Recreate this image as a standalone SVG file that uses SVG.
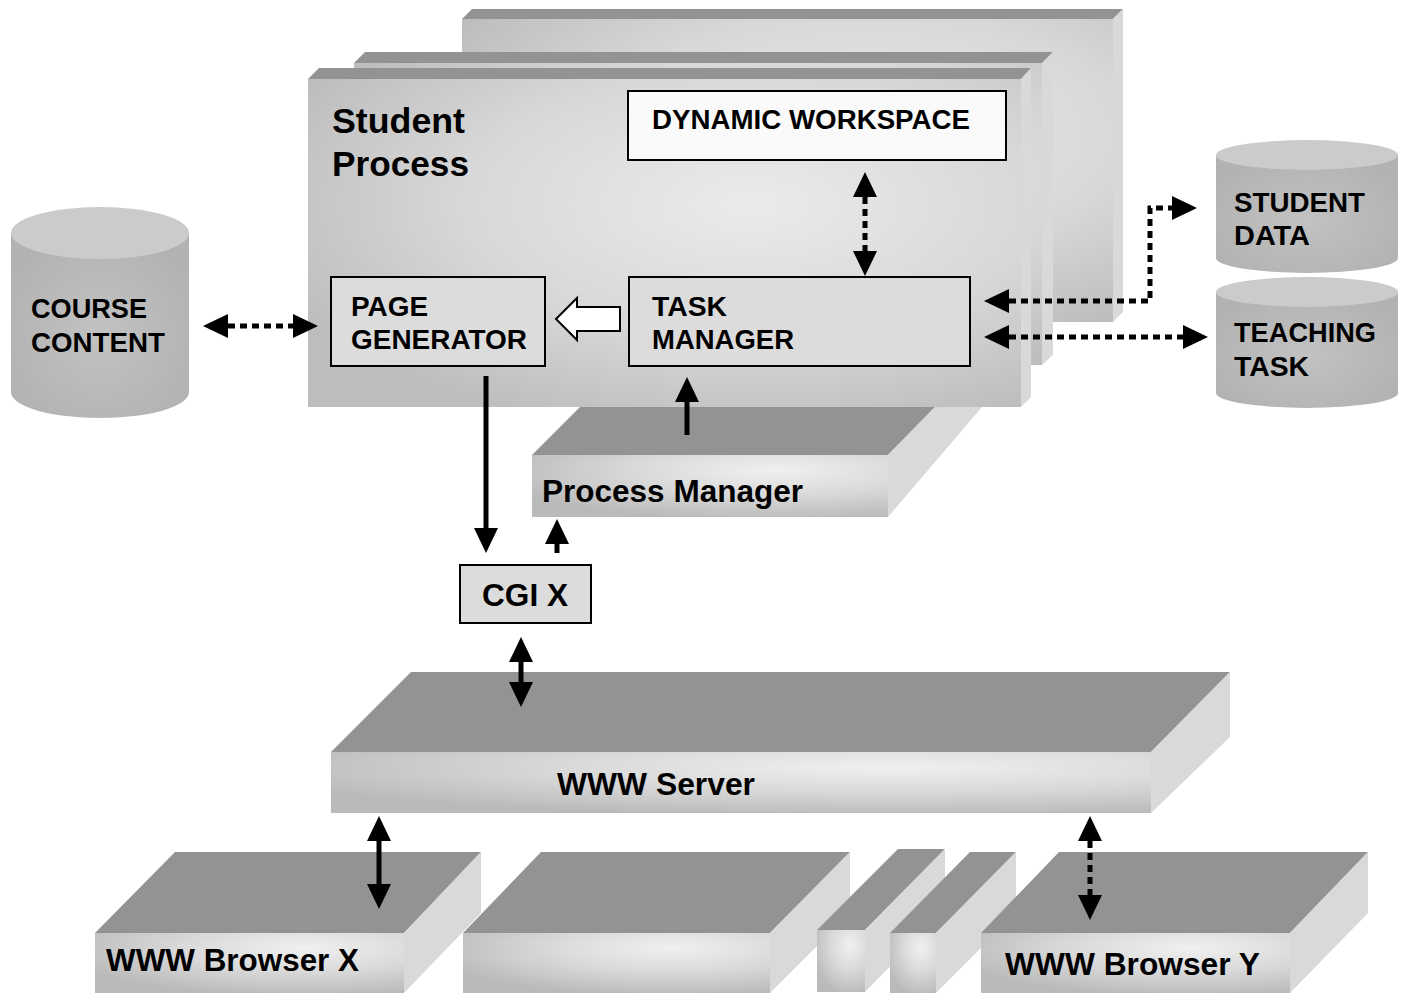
<svg xmlns="http://www.w3.org/2000/svg" width="1404" height="993" viewBox="0 0 1404 993">
  <defs>
    <style>
      .lbl { font-family: "Liberation Sans", Arial, sans-serif; font-weight: bold; fill: #000; }
      .top { fill: #939393; }
      .side { fill: #d9d9d9; }
      .face { fill: url(#faceGrad); }
      .slab { fill: url(#slabGrad); }
      .box { stroke: #000; stroke-width: 2; }
      .solid { fill: none; stroke: #000; stroke-width: 5; }
      .dotted { fill: none; stroke: #000; stroke-width: 5; stroke-dasharray: 7 5; }
      .cylBody { fill: url(#cylGrad); }
      .cylTop { fill: #cbcbcb; }
    </style>
    <radialGradient id="faceGrad" cx="0.62" cy="0.38" r="0.72">
      <stop offset="0" stop-color="#ebebeb"/>
      <stop offset="0.55" stop-color="#d8d8d8"/>
      <stop offset="1" stop-color="#bdbdbd"/>
    </radialGradient>
    <radialGradient id="slabGrad" cx="0.68" cy="0.25" r="0.8">
      <stop offset="0" stop-color="#f0f0f0"/>
      <stop offset="0.5" stop-color="#d9d9d9"/>
      <stop offset="1" stop-color="#bababa"/>
    </radialGradient>
    <radialGradient id="cylGrad" cx="0.5" cy="0.55" r="0.6">
      <stop offset="0" stop-color="#c2c2c2"/>
      <stop offset="1" stop-color="#b2b2b2"/>
    </radialGradient>
    <marker id="head" viewBox="0 -13 26 26" markerWidth="26" markerHeight="26" refX="0" refY="0" orient="auto-start-reverse" markerUnits="userSpaceOnUse" overflow="visible">
      <path d="M0,-12 L25,0 L0,12 z" fill="#000"/>
    </marker>
  </defs>

  <!-- Process Manager slab (its back part is hidden behind the process stack) -->
  <g id="process-manager">
    <polygon class="top" points="532,455 580,407 935,407 888,455"/>
    <polygon class="side" points="888,455 935,407 982,407 888,517"/>
    <rect class="slab" x="532" y="455" width="356" height="62"/>
    <text class="lbl" x="542" y="502" font-size="31" textLength="261" lengthAdjust="spacingAndGlyphs">Process Manager</text>
  </g>

  <!-- Stack of student processes -->
  <g id="student-process-3">
    <polygon class="top" points="462,19 472,9 1123,9 1113,19"/>
    <polygon class="side" points="1113,19 1123,9 1123,312 1113,322"/>
    <rect class="face" x="462" y="19" width="651" height="303"/>
  </g>
  <g id="student-process-2">
    <polygon class="top" points="354,63 365,52 1053,52 1042,63"/>
    <polygon class="side" points="1042,63 1053,52 1053,355 1042,365"/>
    <rect class="face" x="354" y="63" width="688" height="302"/>
  </g>
  <g id="student-process">
    <polygon class="top" points="308,79 319,68 1031,68 1021,79"/>
    <polygon class="side" points="1021,79 1031,68 1031,397 1021,407"/>
    <rect class="face" x="308" y="79" width="713" height="328"/>
    <text class="lbl" x="332" y="133" font-size="35" textLength="133" lengthAdjust="spacingAndGlyphs">Student</text>
    <text class="lbl" x="332" y="176" font-size="35" textLength="137" lengthAdjust="spacingAndGlyphs">Process</text>
  </g>

  <g id="dynamic-workspace">
    <rect class="box" x="628" y="91" width="378" height="69" fill="#fafafa"/>
    <text class="lbl" x="652" y="129" font-size="27" textLength="318" lengthAdjust="spacingAndGlyphs">DYNAMIC WORKSPACE</text>
  </g>

  <g id="page-generator">
    <rect class="box" x="331" y="277" width="214" height="89" fill="#dcdcdc"/>
    <text class="lbl" x="351" y="316" font-size="27.5" textLength="77" lengthAdjust="spacingAndGlyphs">PAGE</text>
    <text class="lbl" x="351" y="349" font-size="27.5" textLength="176" lengthAdjust="spacingAndGlyphs">GENERATOR</text>
  </g>

  <g id="task-manager">
    <rect class="box" x="629" y="277" width="341" height="89" fill="#dcdcdc"/>
    <text class="lbl" x="652" y="316" font-size="27.5" textLength="75" lengthAdjust="spacingAndGlyphs">TASK</text>
    <text class="lbl" x="652" y="349" font-size="27.5" textLength="142" lengthAdjust="spacingAndGlyphs">MANAGER</text>
  </g>

  <!-- Databases -->
  <g id="course-content">
    <path class="cylBody" d="M11,233 L11,392 A89,26 0 0 0 189,392 L189,233 z"/>
    <ellipse class="cylTop" cx="100" cy="233" rx="89" ry="26"/>
    <text class="lbl" x="31" y="318" font-size="27.5" textLength="116" lengthAdjust="spacingAndGlyphs">COURSE</text>
    <text class="lbl" x="31" y="352" font-size="27.5" textLength="134" lengthAdjust="spacingAndGlyphs">CONTENT</text>
  </g>
  <g id="student-data">
    <path class="cylBody" d="M1216,155 L1216,258 A91,15 0 0 0 1398,258 L1398,155 z"/>
    <ellipse class="cylTop" cx="1307" cy="155" rx="91" ry="15"/>
    <text class="lbl" x="1234" y="212" font-size="27.5" textLength="131" lengthAdjust="spacingAndGlyphs">STUDENT</text>
    <text class="lbl" x="1234" y="245" font-size="27.5" textLength="76" lengthAdjust="spacingAndGlyphs">DATA</text>
  </g>
  <g id="teaching-task">
    <path class="cylBody" d="M1216,292 L1216,393 A91,15 0 0 0 1398,393 L1398,292 z"/>
    <ellipse class="cylTop" cx="1307" cy="292" rx="91" ry="15"/>
    <text class="lbl" x="1234" y="342" font-size="27.5" textLength="142" lengthAdjust="spacingAndGlyphs">TEACHING</text>
    <text class="lbl" x="1234" y="376" font-size="27.5" textLength="75" lengthAdjust="spacingAndGlyphs">TASK</text>
  </g>

  <g id="cgi-x">
    <rect class="box" x="460" y="565" width="131" height="58" fill="#dcdcdc"/>
    <text class="lbl" x="482" y="606" font-size="30.5" textLength="86" lengthAdjust="spacingAndGlyphs">CGI X</text>
  </g>

  <!-- WWW server slab -->
  <g id="www-server">
    <polygon class="top" points="331,752 411,672 1230,672 1151,752"/>
    <polygon class="side" points="1151,752 1230,672 1230,737 1151,813"/>
    <rect class="slab" x="331" y="752" width="820" height="61"/>
    <text class="lbl" x="557" y="795" font-size="31" textLength="198" lengthAdjust="spacingAndGlyphs">WWW Server</text>
  </g>

  <!-- Browser slabs -->
  <g id="www-browser-x">
    <polygon class="top" points="95,933 175,852 481,852 404,933"/>
    <polygon class="side" points="404,933 481,852 481,913 404,993"/>
    <rect class="slab" x="95" y="933" width="309" height="60"/>
    <text class="lbl" x="106" y="971" font-size="31" textLength="253" lengthAdjust="spacingAndGlyphs">WWW Browser X</text>
  </g>
  <g id="browser-2">
    <polygon class="top" points="463,933 541,852 850,852 770,933"/>
    <polygon class="side" points="770,933 850,852 850,913 770,993"/>
    <rect class="slab" x="463" y="933" width="307" height="60"/>
  </g>
  <g id="browser-3">
    <polygon class="top" points="817,930 898,849 945,849 865,930"/>
    <polygon class="side" points="865,930 945,849 945,910 865,992"/>
    <rect class="slab" x="817" y="930" width="48" height="62"/>
  </g>
  <g id="browser-4">
    <polygon class="top" points="890,933 970,852 1016,852 936,933"/>
    <polygon class="side" points="936,933 1016,852 1016,913 936,993"/>
    <rect class="slab" x="890" y="933" width="46" height="60"/>
  </g>
  <g id="www-browser-y">
    <polygon class="top" points="981,933 1059,852 1368,852 1290,933"/>
    <polygon class="side" points="1290,933 1368,852 1368,913 1290,993"/>
    <rect class="slab" x="981" y="933" width="309" height="60"/>
    <text class="lbl" x="1005" y="975" font-size="31" textLength="255" lengthAdjust="spacingAndGlyphs">WWW Browser Y</text>
  </g>

  <!-- Connectors -->
  <g id="connectors">
    <!-- task manager hands pages to the page generator -->
    <polygon points="556,319 577,298 577,307 620,307 620,331 577,331 577,340" fill="#fff" stroke="#000" stroke-width="2"/>
    <line class="dotted" x1="865" y1="197" x2="865" y2="251" marker-start="url(#head)" marker-end="url(#head)"/>
    <line class="dotted" x1="228" y1="326" x2="293" y2="326" marker-start="url(#head)" marker-end="url(#head)"/>
    <polyline class="dotted" points="1009,301 1150,301 1150,208 1172,208" marker-start="url(#head)" marker-end="url(#head)"/>
    <line class="dotted" x1="1009" y1="337" x2="1183" y2="337" marker-start="url(#head)" marker-end="url(#head)"/>
    <line class="solid" x1="486" y1="376" x2="486" y2="528" marker-end="url(#head)"/>
    <line class="solid" x1="557" y1="553" x2="557" y2="544" marker-end="url(#head)"/>
    <line class="solid" x1="687" y1="435" x2="687" y2="402" marker-end="url(#head)"/>
    <line class="solid" x1="521" y1="662" x2="521" y2="682" marker-start="url(#head)" marker-end="url(#head)"/>
    <line class="solid" x1="379" y1="841" x2="379" y2="884" marker-start="url(#head)" marker-end="url(#head)"/>
    <line class="dotted" x1="1090" y1="841" x2="1090" y2="895" marker-start="url(#head)" marker-end="url(#head)"/>
  </g>
</svg>
